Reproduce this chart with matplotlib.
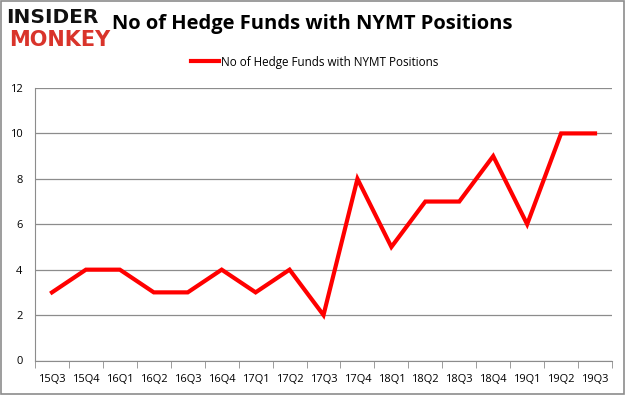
import matplotlib
matplotlib.use("Agg")
import matplotlib.pyplot as plt
from matplotlib.patches import Rectangle

quarters = ["15Q3", "15Q4", "16Q1", "16Q2", "16Q3", "16Q4", "17Q1", "17Q2", "17Q3",
            "17Q4", "18Q1", "18Q2", "18Q3", "18Q4", "19Q1", "19Q2", "19Q3"]
funds = [3, 4, 4, 3, 3, 4, 3, 4, 2, 8, 5, 7, 7, 9, 6, 10, 10]
yticks = [0, 2, 4, 6, 8, 10, 12]

plt.rcParams['font.family'] = ['Open Sans', 'DejaVu Sans']

fig = plt.figure(figsize=(6.25, 3.95), dpi=100)
fig.patches.append(Rectangle((0.0015, 0.0025), 0.997, 0.995, transform=fig.transFigure,
                             fill=False, edgecolor='#8c8c8c', linewidth=1.2))

ax = fig.add_axes([35/625, 34.5/395, 577/625, 272.5/395])
x = list(range(len(quarters)))
ax.plot(x, funds, color='#ff0000', linewidth=3, label='No of Hedge Funds with NYMT Positions',
        solid_joinstyle='miter')
ax.set_xlim(-0.5, len(quarters) - 0.5)
ax.set_ylim(0, 12)
ax.set_yticks(yticks)
ax.set_yticklabels([str(v) for v in yticks], fontsize=8)
ax.yaxis.grid(True, color='#8c8c8c', linewidth=0.9)
ax.set_axisbelow(True)
ax.tick_params(axis='y', length=0, pad=9)
ax.set_xticks(x)
ax.set_xticklabels(quarters, fontsize=8)
ax.tick_params(axis='x', length=0, pad=10)
ax.set_xticks([i - 0.5 for i in range(len(quarters) + 1)], minor=True)
ax.tick_params(axis='x', which='minor', length=5, color='#8c8c8c', direction='out')
for s in ['top', 'right']:
    ax.spines[s].set_visible(False)
for s in ['left', 'bottom']:
    ax.spines[s].set_color('#8c8c8c')

fig.text(0.5, 0.94, 'No of Hedge Funds with NYMT Positions', fontsize=14.5, fontweight='bold',
         ha='center', va='center')
fig.text(0.009, 0.955, 'INSIDER', fontsize=14.5, fontweight='bold', color='#111111',
         ha='left', va='center', family=['DejaVu Sans'])
fig.text(0.015, 0.9, 'MONKEY', fontsize=15, fontweight='bold', color='#d9342b',
         ha='left', va='center', family=['DejaVu Sans'])

leg = fig.legend(loc='center', bbox_to_anchor=(0.503, 0.843), frameon=False, fontsize=8.4,
                 handlelength=2.4, handletextpad=0.15)

fig.savefig('out.png', dpi=100)
